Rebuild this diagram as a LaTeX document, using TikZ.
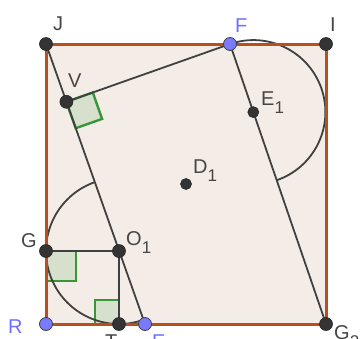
\documentclass[tikz,border=0pt]{standalone}
\usepackage{fontspec}
\setmainfont{Liberation Sans}
\definecolor{sqborder}{RGB}{184,80,30}
\definecolor{sqfill}{RGB}{244,236,230}
\definecolor{segcol}{RGB}{64,64,64}
\definecolor{ptdark}{RGB}{52,52,52}
\definecolor{ptblue}{RGB}{122,122,255}
\definecolor{lblblue}{RGB}{110,110,255}
\definecolor{lblgrey}{RGB}{70,70,70}
\definecolor{rafill}{RGB}{214,224,204}
\definecolor{radraw}{RGB}{56,150,56}
\newcommand{\sbs}[1]{\raisebox{-8pt}{\fontsize{17}{17}\selectfont #1}}
\tikzset{
  seg/.style={draw=segcol, line width=1.8pt},
  border/.style={draw=sqborder, line width=3pt, line join=miter},
  rmark/.style={draw=radraw, fill=rafill, line width=2.4pt, line join=miter},
  dpt/.style={circle, fill=ptdark, draw=black!85, line width=0.6pt, minimum size=13pt, inner sep=0pt},
  bpt/.style={circle, fill=ptblue, draw=black!75, line width=0.8pt, minimum size=13pt, inner sep=0pt},
  lbl/.style={anchor=base west, inner sep=0pt, text=lblgrey, font=\fontsize{20}{20}\selectfont},
  blbl/.style={lbl, text=lblblue}
}
\begin{document}
\begin{tikzpicture}[x=1pt,y=-1pt]
\useasboundingbox (0,0) rectangle (364,338);
% main coordinates
\coordinate (J) at (46,44);
\coordinate (I) at (326,44);
\coordinate (G2) at (326,324);
\coordinate (R) at (46,324);
\coordinate (F) at (230,44);
\coordinate (E) at (145,324);
\coordinate (T) at (119,324);
\coordinate (G) at (46,251);
\coordinate (O1) at (119,251);
\coordinate (V) at (66.4,101.8);
\coordinate (E1) at (253.3,112.1);
\coordinate (D1) at (186,184);
% square fill
\fill[sqfill] (J) rectangle (G2);
% right angle marks
\draw[rmark] (V) -- (75.7,128.2) -- (102.1,118.9) -- (92.8,92.5) -- cycle;
\draw[rmark] (G) -- (76,251) -- (76,281) -- (46,281) -- cycle;
\draw[rmark] (T) -- (95,324) -- (95,300) -- (119,300) -- cycle;
% arcs
\draw[seg] (F) arc[start angle=-108.96, end angle=71.04, radius=72];
\draw[seg] (O1) ++(70.53:73) arc[start angle=70.53, end angle=250.53, radius=73];
% segments
\draw[seg] (J) -- (E);
\draw[seg] (F) -- (V);
\draw[seg] (F) -- (G2);
\draw[seg] (G) -- (O1) -- (T);
% square border
\draw[border] (J) -- (I) -- (G2) -- (R) -- cycle;
% points
\node[dpt] (pJ) at (J) {};
\node[dpt] (pI) at (I) {};
\node[dpt] (pG2) at (G2) {};
\node[dpt] (pT) at (T) {};
\node[dpt] (pG) at (G) {};
\node[dpt] (pO1) at (O1) {};
\node[dpt] (pV) at (V) {};
\node[dpt,minimum size=11pt] (pE1) at (E1) {};
\node[dpt,minimum size=11pt] (pD1) at (D1) {};
\node[bpt] (pF) at (F) {};
\node[bpt] (pR) at (R) {};
\node[bpt] (pE) at (E) {};
% labels
\node[lbl] (lJ) at (53,30) {J};
\node[blbl] (lF) at (235,32) {F};
\node[lbl] (lI) at (330,31) {I};
\node[lbl] (lV) at (68,87) {V};
\node[lbl] (lG) at (21,247) {G};
\node[lbl] (lO1) at (126,245) {O\sbs{1}};
\node[blbl] (lR) at (8,333) {R};
\node[lbl] (lT) at (105,348) {T};
\node[blbl] (lE) at (152,348) {E};
\node[lbl] (lG2) at (334,339) {G\sbs{2}};
\node[lbl] (lD1) at (193,173) {D\sbs{1}};
\node[lbl] (lE1) at (261,105) {E\sbs{1}};
\end{tikzpicture}
\end{document}
